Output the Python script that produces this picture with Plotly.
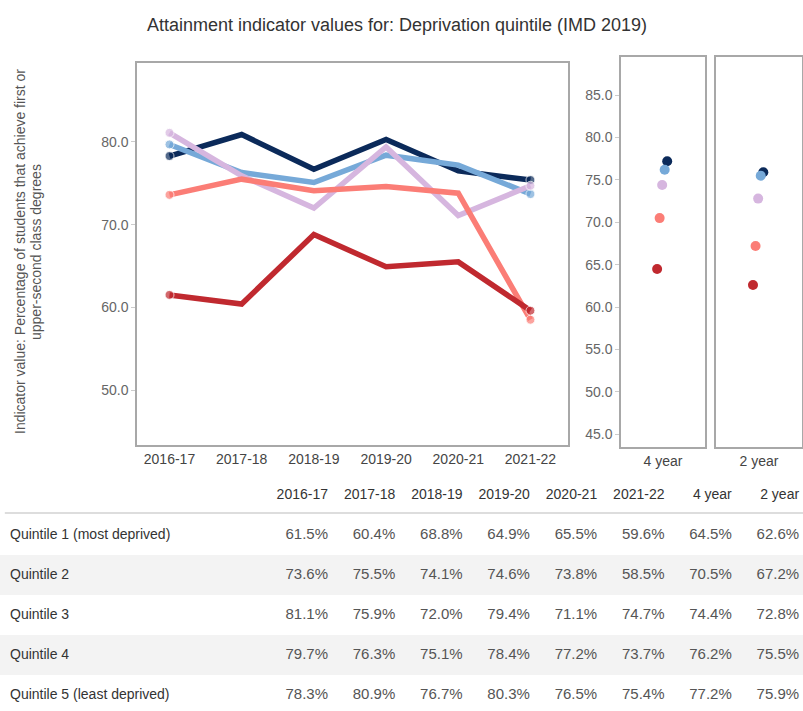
import plotly.graph_objects as go

years = ["2016-17", "2017-18", "2018-19", "2019-20", "2020-21", "2021-22"]
agg_labels = ["4 year", "2 year"]
quintiles = ["Quintile 1 (most deprived)", "Quintile 2", "Quintile 3",
             "Quintile 4", "Quintile 5 (least deprived)"]

q1 = [61.5, 60.4, 68.8, 64.9, 65.5, 59.6]
q2 = [73.6, 75.5, 74.1, 74.6, 73.8, 58.5]
q3 = [81.1, 75.9, 72.0, 79.4, 71.1, 74.7]
q4 = [79.7, 76.3, 75.1, 78.4, 77.2, 73.7]
q5 = [78.3, 80.9, 76.7, 80.3, 76.5, 75.4]

four_year = [64.5, 70.5, 74.4, 76.2, 77.2]
two_year = [62.6, 67.2, 72.8, 75.5, 75.9]

series = [q1, q2, q3, q4, q5]
colors = ["#c0292f", "#fb7d76", "#d6b6df", "#76a9d8", "#0b2a5a"]
dot_jitter = [-0.14, -0.08, -0.02, 0.04, 0.10]

W, H = 803, 711
GREY = "#666666"
FRAME = "#a8a8a8"


def px(x):
    return x / W


def py(y):
    return 1 - y / H


fig = go.Figure()

# main line chart, Q5 drawn first so Q1 ends on top
for i in reversed(range(5)):
    fig.add_trace(go.Scatter(
        x=years, y=series[i], mode="lines+markers", name=quintiles[i],
        line=dict(color=colors[i], width=5.5),
        marker=dict(color=colors[i], size=[9, 0, 0, 0, 0, 9]),
        xaxis="x", yaxis="y", showlegend=False))

# aggregate dot panels
for i in reversed(range(5)):
    fig.add_trace(go.Scatter(
        x=[dot_jitter[i]], y=[four_year[i]], mode="markers",
        marker=dict(color=colors[i], size=10),
        xaxis="x2", yaxis="y2", showlegend=False))
    fig.add_trace(go.Scatter(
        x=[dot_jitter[i]], y=[two_year[i]], mode="markers",
        marker=dict(color=colors[i], size=10),
        xaxis="x3", yaxis="y3", showlegend=False))

# table below, as text on hidden axes (column index / row index)
col_heads = years + agg_labels
all_rows = [s + [four_year[k], two_year[k]] for k, s in enumerate(series)]

fig.add_trace(go.Scatter(
    x=list(range(len(col_heads))), y=[0] * len(col_heads), text=col_heads,
    mode="text", textposition="middle left",
    textfont=dict(size=14, color="#333333"),
    xaxis="x4", yaxis="y4", showlegend=False))
for r, vals in enumerate(all_rows):
    fig.add_trace(go.Scatter(
        x=list(range(len(vals))), y=[r + 1] * len(vals),
        text=[f"{v:.1f}%" for v in vals],
        mode="text", textposition="middle left",
        textfont=dict(size=15, color="#555555"),
        xaxis="x4", yaxis="y4", showlegend=False))
fig.add_trace(go.Scatter(
    x=[-4.725] * 5, y=list(range(1, 6)), text=quintiles,
    mode="text", textposition="middle right",
    textfont=dict(size=14, color="#333333"),
    xaxis="x4", yaxis="y4", showlegend=False))

shapes = []
for r in (2, 4):
    shapes.append(dict(type="rect", xref="paper", yref="y4", x0=0, x1=1,
                       y0=r - 0.5, y1=r + 0.5, fillcolor="#f3f3f3",
                       line_width=0, layer="below"))
shapes.append(dict(type="line", xref="paper", yref="y4", x0=0.006, x1=1,
                   y0=0.45, y1=0.45, line=dict(color="#dddddd", width=2)))

frame = dict(showline=True, mirror=True, linecolor=FRAME, linewidth=1.5,
             showgrid=False, zeroline=False)
tickfont = dict(size=14, color=GREY)
xtickfont = dict(size=14, color="#444444")

ytitle = ["Indicator value: Percentage of students that achieve first or",
          "upper-second class degrees"]

fig.update_layout(
    width=W, height=H,
    margin=dict(l=0, r=0, t=0, b=0),
    paper_bgcolor="white", plot_bgcolor="white",
    font=dict(family="Liberation Sans, Arial, sans-serif", color="#333333"),
    title=dict(text="Attainment indicator values for: Deprivation quintile (IMD 2019)",
               x=px(397), xanchor="center", y=py(25), yanchor="middle",
               font=dict(size=18, color="#333333")),
    xaxis=dict(domain=[px(137), px(568)], range=[-0.45, 5.52], type="category",
               ticks="", tickfont=xtickfont, **frame),
    yaxis=dict(domain=[py(445), py(63)], range=[43.35, 89.55],
               tickvals=[50, 60, 70, 80], tickformat=".1f",
               ticks="outside", ticklen=4, tickcolor="#cccccc",
               tickfont=tickfont, **frame),
    xaxis2=dict(domain=[px(621), px(705)], range=[-1, 1], tickvals=[0],
                ticktext=[agg_labels[0]], ticks="",
                tickfont=xtickfont, anchor="y2", **frame),
    yaxis2=dict(domain=[py(447), py(57)], range=[43.5, 89.5],
                tickvals=[45, 50, 55, 60, 65, 70, 75, 80, 85], tickformat=".1f",
                ticks="outside", ticklen=4, tickcolor="#cccccc",
                tickfont=tickfont, anchor="x2", **frame),
    xaxis3=dict(domain=[px(716), px(802)], range=[-1, 1], tickvals=[0],
                ticktext=[agg_labels[1]], ticks="",
                tickfont=xtickfont, anchor="y3", **frame),
    yaxis3=dict(domain=[py(447), py(57)], range=[43.5, 89.5],
                showticklabels=False, ticks="", anchor="x3", **frame),
    xaxis4=dict(domain=[0, 1], range=[-328 / 67.3, (W - 328) / 67.3],
                visible=False, anchor="y4"),
    yaxis4=dict(domain=[0, py(475)], range=[-0.5 + (H - 475) / 40, -0.5],
                visible=False, anchor="x4"),
    shapes=shapes,
    annotations=[
        dict(text=ytitle[0], xref="paper", yref="paper", x=px(20), y=py(252),
             xanchor="center", yanchor="middle", textangle=-90,
             showarrow=False, font=dict(size=14, color="#555555")),
        dict(text=ytitle[1], xref="paper", yref="paper", x=px(36), y=py(252),
             xanchor="center", yanchor="middle", textangle=-90,
             showarrow=False, font=dict(size=14, color="#555555")),
    ],
)

# drop the default page margin so the 803x711 figure fills the window exactly
fig.write_html("out.html",
               config={"displayModeBar": False},
               post_script="document.body.style.margin='0px';"
                           "document.body.style.overflow='hidden';")
